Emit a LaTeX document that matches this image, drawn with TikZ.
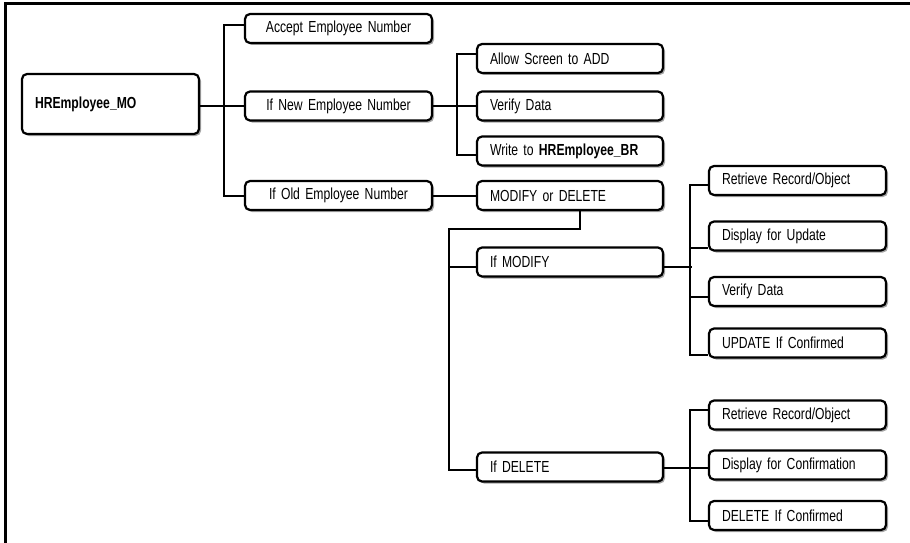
\documentclass[tikz,border=0pt]{standalone}
\usepackage{fontspec}
\setmainfont{Liberation Sans}[FakeStretch=0.76]
\usetikzlibrary{shadows}

\tikzset{
	box/.style={draw, line width=2.2pt, rounded corners=5pt, fill=white,
		drop shadow={shadow xshift=2pt, shadow yshift=-2pt, fill=black!35, opacity=1},
		minimum height=29pt, inner xsep=13pt, inner ysep=0pt, align=left,
		font=\fontsize{16}{18}\selectfont},
	midbox/.style={box, text width=161pt, align=center},
	subbox/.style={box, text width=160pt},
	leafbox/.style={box, text width=151pt},
	link/.style={line width=2pt}
}

\begin{document}
\begin{tikzpicture}[x=1pt, y=-1pt]
	\useasboundingbox (0,0) rectangle (910,543);
	% frame
	\draw[line width=3pt] (5,543) -- (5,3.5) -- (910,3.5);
	% root
	\node[box, text width=151pt, minimum height=60pt] (mo) at (110.5,104) {\textbf{HREmployee\_MO}};
	% first level
	\node[midbox] (accept) at (338.5,28.5) {Accept Employee Number};
	\node[midbox] (new) at (338.5,106) {If New Employee Number};
	\node[midbox] (old) at (338.5,195.5) {If Old Employee Number};
	% new number
	\node[subbox] (add) at (570,58.5) {Allow Screen to ADD};
	\node[subbox] (verify) at (570,106) {Verify Data};
	\node[subbox] (write) at (570,151) {Write to \textbf{HREmployee\_BR}};
	% old number
	\node[subbox] (model) at (570,195.5) {MODIFY or DELETE};
	\node[subbox] (ifmod) at (570,262) {If MODIFY};
	\node[subbox] (ifdel) at (570,467) {If DELETE};
	% modify
	\node[leafbox] (retr) at (797.5,180.5) {Retrieve Record/Object};
	\node[leafbox] (disp) at (797.5,236) {Display for Update};
	\node[leafbox] (ver2) at (797.5,291.5) {Verify Data};
	\node[leafbox] (upd) at (797.5,343) {UPDATE If Confirmed};
	% delete
	\node[leafbox] (retr2) at (797.5,415) {Retrieve Record/Object};
	\node[leafbox] (dispc) at (797.5,465) {Display for Confirmation};
	\node[leafbox] (delc) at (797.5,515.5) {DELETE If Confirmed};

	% connectors
	\draw[link] (mo.east |- new.west) -- (new.west);
	\draw[link] ([yshift=3pt]accept.west) -- ++(-20,0) |- (old.west);
	\draw[link] (new.east) -- (verify.west);
	\draw[link] ([yshift=4pt]add.west) -- ++(-19,0) |- ([yshift=-4pt]write.west);
	\draw[link] (old.east) -- (model.west);
	\coordinate (md) at (449,229);
	\draw[link] ([xshift=10pt]model.south) |- (md) |- ([yshift=-3pt]ifdel.west);
	\draw[link] (md) |- ([yshift=-5pt]ifmod.west);
	\draw[link] ([yshift=-5pt]ifmod.east) -- ++(28,0);
	\draw[link] ([yshift=-4pt]retr.west) -- ++(-18,0) |- ([yshift=-12pt]upd.west);
	\draw[link] ([yshift=-12pt]disp.west) -- ++(-18,0);
	\draw[link] ([yshift=-5pt]ver2.west) -- ++(-18,0);
	\draw[link] ([yshift=-1pt]ifdel.east) -- ++(28,0);
	\draw[link] ([yshift=5pt]retr2.west) -- ++(-18,0) |- ([yshift=-5pt]delc.west);
	\draw[link] ([yshift=-3pt]dispc.west) -- ++(-18,0);
\end{tikzpicture}
\end{document}
